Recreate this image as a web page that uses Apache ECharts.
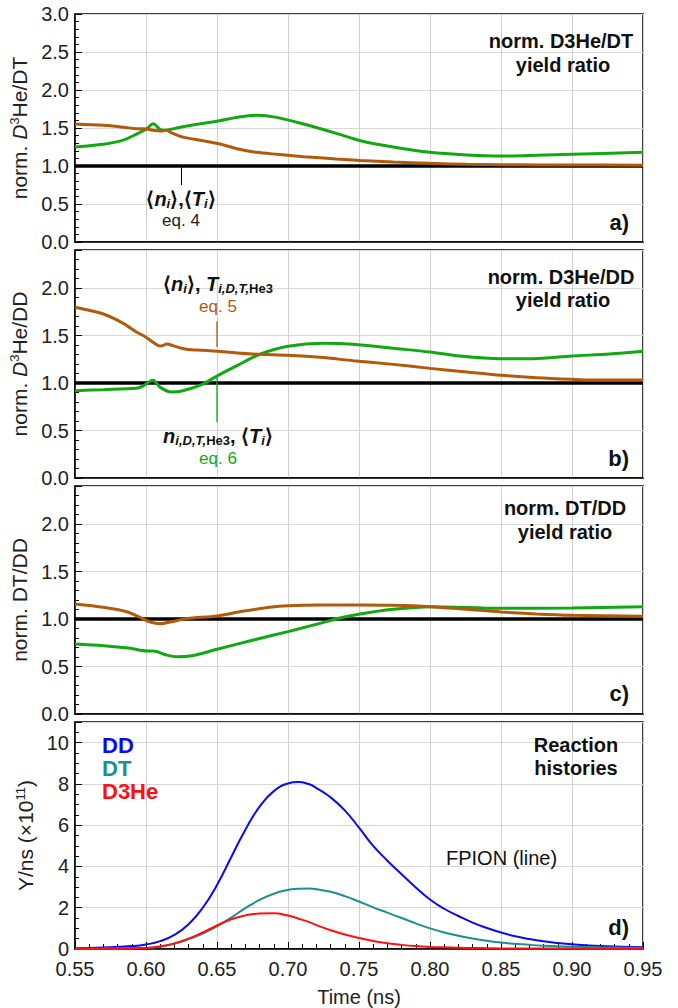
<!DOCTYPE html>
<html><head><meta charset="utf-8">
<script src="https://cdn.jsdelivr.net/npm/echarts@6/dist/echarts.min.js"></script>
<style>html,body{margin:0;padding:0;background:#fff}#c{width:678px;height:1008px}</style>
</head><body><div id="c"></div>
<script>
// ---------- data ----------
const xTicks = ['0.55','0.60','0.65','0.70','0.75','0.80','0.85','0.90','0.95'];
const REF = 1.0;

// panel a: norm. D3He/DT
const aBrownT = [0.55,0.570,0.584,0.593,0.6005,0.605,0.610,0.6146,0.618,0.626,0.640,0.652,0.664,0.678,0.692,0.711,0.734,0.751,0.774,0.80,0.826,0.85,0.875,0.90,0.95];
const aBrownV = [1.553,1.535,1.51,1.49,1.487,1.47,1.46,1.47,1.435,1.38,1.333,1.29,1.228,1.18,1.154,1.123,1.092,1.072,1.052,1.035,1.022,1.018,1.014,1.013,1.01];
const aGreenT = [0.55,0.570,0.584,0.593,0.6005,0.605,0.610,0.6146,0.617,0.626,0.640,0.652,0.664,0.678,0.692,0.711,0.734,0.751,0.774,0.80,0.826,0.85,0.875,0.90,0.95];
const aGreenV = [1.25,1.285,1.34,1.417,1.49,1.557,1.48,1.47,1.48,1.517,1.56,1.596,1.64,1.667,1.64,1.553,1.43,1.333,1.25,1.18,1.145,1.13,1.14,1.154,1.18];
const aConnT = [0.625,0.625];
const aConnV = [1.0,0.75];

// panel b: norm. D3He/DD
const bBrownT = [0.55,0.57,0.584,0.593,0.6005,0.606,0.610,0.615,0.619,0.6286,0.640,0.65,0.664,0.68,0.70,0.7225,0.746,0.7742,0.80,0.826,0.85,0.875,0.90,0.915,0.95];
const bBrownV = [1.797,1.726,1.628,1.54,1.477,1.418,1.389,1.41,1.393,1.355,1.344,1.334,1.316,1.302,1.291,1.27,1.235,1.196,1.154,1.116,1.081,1.056,1.039,1.032,1.032];
const bGreenT = [0.55,0.57,0.593,0.597,0.605,0.610,0.618,0.626,0.640,0.65,0.664,0.68,0.70,0.725,0.746,0.7742,0.80,0.821,0.85,0.8725,0.90,0.9265,0.95];
const bGreenV = [0.919,0.93,0.944,0.961,1.028,0.954,0.905,0.919,0.989,1.074,1.182,1.302,1.386,1.418,1.407,1.365,1.326,1.284,1.256,1.256,1.284,1.305,1.333];
const bConnBrownT = [0.65,0.65];
const bConnBrownV = [1.65,1.38];
const bConnGreenT = [0.65,0.65];
const bConnGreenV = [1.07,0.59];

// panel c: norm. DT/DD
const cBrownT = [0.55,0.57,0.5864,0.5958,0.603,0.61,0.617,0.6286,0.65,0.668,0.687,0.70,0.7225,0.7507,0.7742,0.80,0.8258,0.85,0.875,0.90,0.95];
const cBrownV = [1.158,1.123,1.077,1.017,0.968,0.951,0.968,1.004,1.032,1.081,1.123,1.14,1.147,1.147,1.144,1.13,1.102,1.074,1.053,1.039,1.028];
const cGreenT = [0.55,0.57,0.589,0.6005,0.605,0.6146,0.6216,0.631,0.65,0.6756,0.70,0.7225,0.7366,0.7507,0.7742,0.80,0.85,0.90,0.95];
const cGreenV = [0.737,0.719,0.691,0.663,0.663,0.621,0.603,0.61,0.681,0.779,0.867,0.954,1.01,1.053,1.102,1.13,1.112,1.116,1.13];

// panel d: reaction histories (x1e11 /ns)
const dT   = [0.55,0.57,0.59,0.60,0.61,0.62,0.63,0.64,0.65,0.66,0.67,0.68,0.69,0.70,0.707,0.715,0.72,0.73,0.74,0.75,0.76,0.77,0.78,0.79,0.80,0.81,0.82,0.83,0.84,0.85,0.86,0.87,0.88,0.89,0.90,0.92,0.95];
const ddV  = [0.04,0.07,0.14,0.22,0.38,0.68,1.2,2.0,3.1,4.45,5.78,6.9,7.65,8.02,8.09,7.98,7.8,7.35,6.72,5.88,5.0,4.28,3.62,2.98,2.4,1.95,1.6,1.28,1.02,0.8,0.62,0.48,0.37,0.29,0.23,0.15,0.08];
const dtV  = [0.01,0.02,0.04,0.05,0.12,0.26,0.48,0.75,1.1,1.52,1.98,2.38,2.68,2.86,2.92,2.93,2.9,2.77,2.56,2.3,2.02,1.76,1.5,1.24,1.0,0.8,0.64,0.51,0.4,0.31,0.25,0.2,0.16,0.13,0.11,0.08,0.05];
const dheV = [0.01,0.02,0.04,0.05,0.12,0.27,0.5,0.8,1.14,1.44,1.63,1.72,1.73,1.62,1.48,1.3,1.16,0.91,0.7,0.53,0.39,0.28,0.2,0.14,0.1,0.08,0.06,0.05,0.04,0.03,0.03,0.02,0.02,0.02,0.02,0.01,0.01];

// ---------- chart ----------
const pair = (t, v) => t.map((x, i) => [x, v[i]]);
const FONT = "'Liberation Sans', Arial, sans-serif";
const GREEN = '#12a812', BROWN = '#b35a0a', BLUE = '#0a0af0', TEAL = '#1a9090', RED = '#ff1010';
const X0 = +xTicks[0], X1 = +xTicks[xTicks.length - 1];

const grids = [
  {left: 75, right: 35, top: 14, height: 228},
  {left: 75, right: 35, top: 250, height: 228},
  {left: 75, right: 35, top: 486, height: 228},
  {left: 75, right: 35, top: 722, height: 227}
].map(g => Object.assign(g, {show: true, borderColor: '#000', borderWidth: 1.5, backgroundColor: 'transparent'}));

function xAx(i, last) {
  return {
    type: 'value', gridIndex: i, min: X0, max: X1, interval: 0.05,
    axisLine: {show: true, lineStyle: {color: '#000', width: 1.5}},
    axisTick: {show: last, inside: true, length: 7, lineStyle: {color: '#000'}},
    minorTick: {show: last, splitNumber: 5, length: 5, lineStyle: {color: '#000'}},
    axisLabel: {show: last, margin: 10, fontFamily: FONT, fontSize: 20, color: '#222',
      formatter: v => v.toFixed(2)},
    splitLine: {show: true, lineStyle: {color: '#d0d0d0', width: 1}},
    name: last ? 'Time (ns)' : '', nameLocation: 'middle', nameGap: 38,
    nameTextStyle: {fontFamily: FONT, fontSize: 20, color: '#222'}
  };
}
const nameRich = {
  i: {fontFamily: FONT, fontSize: 21, fontStyle: 'italic', color: '#222'},
  sup: {fontFamily: FONT, fontSize: 13, color: '#222', padding: [0, 0, 10, 0]}
};
function yAx(i, max, interval, name, minorSplit) {
  return {
    type: 'value', gridIndex: i, min: 0, max: max, interval: interval,
    axisLine: {show: true, lineStyle: {color: '#000', width: 1.5}},
    axisTick: {show: true, inside: true, length: 7, lineStyle: {color: '#000'}},
    minorTick: {show: true, splitNumber: minorSplit, length: 4, lineStyle: {color: '#000'}},
    axisLabel: {margin: 6, fontFamily: FONT, fontSize: 20, lineHeight: 18, color: '#222',
      showMaxLabel: max % interval === 0,
      formatter: v => interval < 1 ? v.toFixed(1) : String(Math.round(v))},
    splitLine: {show: true, lineStyle: {color: '#d8d8d8', width: 1}},
    name: name, nameLocation: 'middle', nameGap: 32,
    nameTextStyle: {fontFamily: FONT, fontSize: 21, color: '#222', rich: nameRich}
  };
}

function line(i, data, color, width, sm) {
  return {type: 'line', xAxisIndex: i, yAxisIndex: i, data: data, showSymbol: false, symbol: 'none',
    smooth: sm, lineStyle: {color: color, width: width}, z: 3, silent: true, animation: false};
}
function refLine(i) {
  return {type: 'line', xAxisIndex: i, yAxisIndex: i, data: [[X0, REF], [X1, REF]], symbol: 'none',
    lineStyle: {color: '#000', width: 3.5}, z: 2, silent: true, animation: false};
}
function conn(i, t, v, color, width) {
  return {type: 'line', xAxisIndex: i, yAxisIndex: i, data: pair(t, v), symbol: 'none',
    lineStyle: {color: color, width: width}, z: 4, silent: true, animation: false};
}

const series = [
  refLine(0), conn(0, aConnT, aConnV, '#000', 1),
  line(0, pair(aGreenT, aGreenV), GREEN, 3, 0.3), line(0, pair(aBrownT, aBrownV), BROWN, 3, 0.3),
  refLine(1), conn(1, bConnBrownT, bConnBrownV, BROWN, 1.3), conn(1, bConnGreenT, bConnGreenV, GREEN, 1.3),
  line(1, pair(bGreenT, bGreenV), GREEN, 3, 0.3), line(1, pair(bBrownT, bBrownV), BROWN, 3, 0.3),
  refLine(2),
  line(2, pair(cGreenT, cGreenV), GREEN, 3, 0.3), line(2, pair(cBrownT, cBrownV), BROWN, 3, 0.3),
  line(3, pair(dT, ddV), BLUE, 2, 0.5), line(3, pair(dT, dtV), TEAL, 2, 0.5), line(3, pair(dT, dheV), RED, 2, 0.5)
];

function txt(x, y, text, opt) {
  return {type: 'text', x: x, y: y, z: 100, silent: true,
    style: Object.assign({text: text, fontFamily: FONT, fontSize: 20, fill: '#111',
      align: 'center', verticalAlign: 'middle'}, opt || {})};
}
function annRich(color) {
  return {
    n: {fontFamily: FONT, fontSize: 20, fontWeight: 'bold', color: color, lineHeight: 21},
    bi: {fontFamily: FONT, fontSize: 20, fontWeight: 'bold', fontStyle: 'italic', color: color, lineHeight: 21},
    s: {fontFamily: FONT, fontSize: 13, fontWeight: 'bold', fontStyle: 'italic', color: color, lineHeight: 21, verticalAlign: 'bottom'},
    su: {fontFamily: FONT, fontSize: 13, fontWeight: 'bold', color: color, lineHeight: 21, verticalAlign: 'bottom'}
  };
}
const bold = {fontWeight: 'bold'};
const graphic = [
  txt(561, 41, 'norm. D3He/DT', bold), txt(563, 65, 'yield ratio', bold),
  txt(629, 222, 'a)', Object.assign({align: 'right', fontSize: 22}, bold)),
  txt(181, 199, '{n|⟨}{bi|n}{s|i}{n|⟩,⟨}{bi|T}{s|i}{n|⟩}', {rich: annRich('#111')}),
  txt(181, 220, 'eq. 4', {fontSize: 17, fill: '#222'}),

  txt(561, 277, 'norm. D3He/DD', bold), txt(563, 300, 'yield ratio', bold),
  txt(629, 458, 'b)', Object.assign({align: 'right', fontSize: 22}, bold)),
  txt(218, 284, '{n|⟨}{bi|n}{s|i}{n|⟩, }{bi|T}{s|i,D,T,}{su|He3}', {rich: annRich(BROWN)}),
  txt(218, 306, 'eq. 5', {fontSize: 17, fill: BROWN}),
  txt(218, 436, '{bi|n}{s|i,D,T,}{su|He3}{n|, ⟨}{bi|T}{s|i}{n|⟩}', {rich: annRich(GREEN)}),
  txt(218, 458, 'eq. 6', {fontSize: 17, fill: GREEN}),

  txt(565, 508, 'norm. DT/DD', bold), txt(565, 532, 'yield ratio', bold),
  txt(629, 693, 'c)', Object.assign({align: 'right', fontSize: 22}, bold)),

  txt(102, 745, 'DD', {align: 'left', fontWeight: 'bold', fontSize: 22, fill: BLUE}),
  txt(102, 768, 'DT', {align: 'left', fontWeight: 'bold', fontSize: 22, fill: TEAL}),
  txt(102, 791, 'D3He', {align: 'left', fontWeight: 'bold', fontSize: 22, fill: RED}),
  txt(576, 745, 'Reaction', bold), txt(576, 768, 'histories', bold),
  txt(446, 858, 'FPION (line)', {align: 'left', fill: '#111'}),
  txt(629, 927, 'd)', Object.assign({align: 'right', fontSize: 22}, bold))
];

const chart = echarts.init(document.getElementById('c'), null, {renderer: 'svg', width: 678, height: 1008});
chart.setOption({
  animation: false,
  backgroundColor: '#fff',
  grid: grids,
  xAxis: [xAx(0, false), xAx(1, false), xAx(2, false), xAx(3, true)],
  yAxis: [
    yAx(0, 3.0, 0.5, 'norm. {i|D}{sup|3}He/DT', 5),
    yAx(1, 2.4, 0.5, 'norm. {i|D}{sup|3}He/DD', 5),
    yAx(2, 2.4, 0.5, 'norm. DT/DD', 5),
    yAx(3, 11, 2, 'Y/ns (×10{sup|11})', 4)
  ],
  series: series,
  graphic: graphic
});
</script></body></html>
